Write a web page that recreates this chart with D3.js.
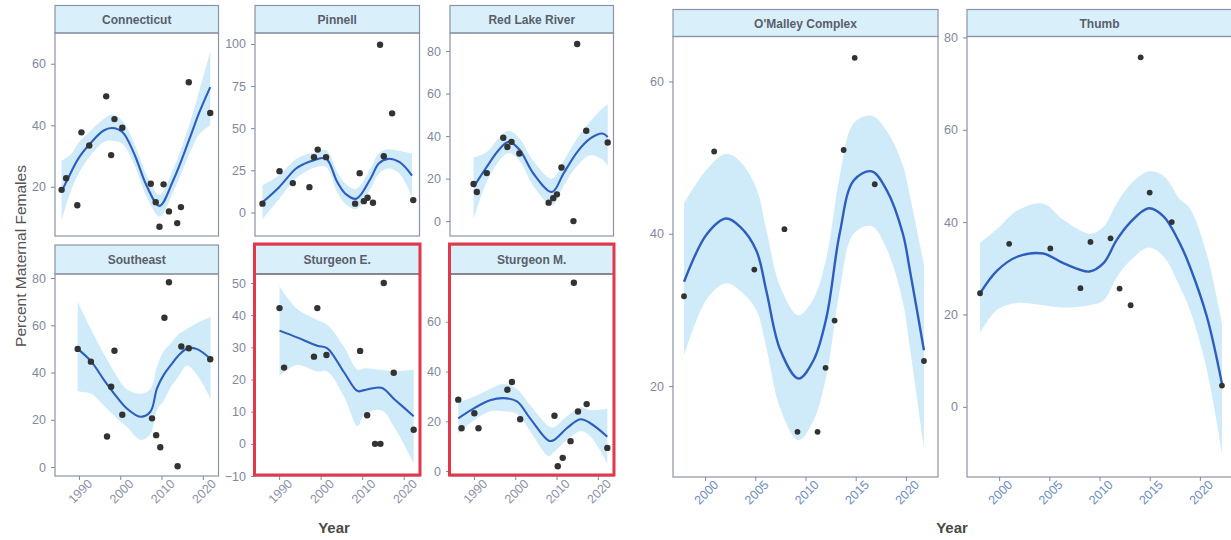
<!DOCTYPE html>
<html>
<head>
<meta charset="utf-8">
<script src="https://cdn.jsdelivr.net/npm/d3@7"></script>
<style>
  body { margin: 0; background: #fff; }
  svg { display: block; }
  text { font-family: "Liberation Sans", Arial, sans-serif; }
</style>
</head>
<body>
<svg id="chart" width="1231" height="540"></svg>
<script>
// ---- observations: survey year and percent of maternal females ----
const connecticutYears = [1985.8, 1986.9, 1989.6, 1990.6, 1992.5, 1996.6, 1997.8, 1998.6, 2000.5, 2007.4, 2008.6, 2009.5, 2010.5, 2011.8, 2013.8, 2014.7, 2016.6, 2021.8];
const connecticutPct   = [19, 22.8, 14, 37.7, 33.4, 49.4, 30.3, 42, 39.2, 21, 15, 7, 20.8, 12, 8.2, 13.4, 54, 44];

const pinnellYears = [1986, 1990.1, 1993.3, 1997.3, 1998.4, 1999.3, 2001.3, 2008.3, 2009.4, 2010.4, 2011.3, 2012.6, 2014.3, 2015.2, 2017.2, 2022.3];
const pinnellPct   = [5.2, 24.5, 17.4, 15, 32.8, 37.3, 32.8, 5.2, 23.3, 6.7, 8.7, 5.7, 99.5, 33.4, 58.8, 7.3];

const redLakeYears = [1989.9, 1990.7, 1993.1, 1997.1, 1998.1, 1999.1, 2001, 2008.1, 2009.2, 2010.1, 2011.2, 2014.1, 2015, 2017.2, 2022.4];
const redLakePct   = [17.5, 13.7, 22.6, 39.2, 34.9, 37.3, 31.8, 8.7, 10.8, 12.6, 25.2, 0, 83.3, 42.5, 37];

const southeastYears = [1989.7, 1992.9, 1996.8, 1997.8, 1998.6, 2000.5, 2007.7, 2008.7, 2009.7, 2010.7, 2011.8, 2013.9, 2014.8, 2016.6, 2021.8];
const southeastPct   = [50, 44.6, 12.9, 34, 49.2, 22.1, 20.6, 13.5, 8.4, 63.2, 78.2, 0.3, 51, 50.3, 45.6];

const sturgeonEYears = [1990.1, 1991.2, 1998.4, 1999.2, 2001.4, 2009.5, 2011.2, 2013.1, 2014.4, 2015.2, 2017.6, 2022.4];
const sturgeonEPct   = [42.2, 23.7, 27.1, 42.2, 27.6, 28.9, 8.9, 0, 0, 50, 22.1, 4.4];

const sturgeonMYears = [1986.2, 1987, 1990.1, 1991.1, 1998.1, 1999.2, 2001.2, 2009.5, 2010.3, 2011.5, 2013.4, 2014.2, 2015.2, 2017.3, 2022.3];
const sturgeonMPct   = [28.7, 17.2, 23.2, 17.2, 32.7, 35.8, 20.8, 22.2, 1.9, 5.3, 12, 75.7, 23.9, 26.9, 9.3];

const omalleyYears = [1997.9, 2000.9, 2004.9, 2007.9, 2009.2, 2011.2, 2012, 2012.9, 2013.8, 2014.9, 2016.9, 2021.8];
const omalleyPct   = [31.8, 50.8, 35.3, 40.6, 14, 14, 22.4, 28.6, 51, 63.1, 46.5, 23.3];

const thumbYears = [1998.1, 2001, 2005.1, 2008.1, 2009.1, 2011.1, 2012, 2013.1, 2014.1, 2015, 2017.2, 2022.2];
const thumbPct   = [24.6, 35.3, 34.3, 25.7, 35.7, 36.5, 25.6, 22, 75.7, 46.4, 40, 4.6];

// ---- loess trend with confidence band: year, fit, lower, upper ----
const connecticutTrendYears = [1985.8, 1988, 1990, 1993, 1996, 1998, 2000.5, 2003.3, 2006.5, 2009.5, 2012.9, 2016.7, 2019.1, 2021.8];
const connecticutFit   = [18.5, 24.5, 29.5, 34.5, 38.3, 39.1, 37.8, 31, 20, 13.8, 22.3, 35.3, 44, 52.4];
const connecticutLower = [9, 18.5, 24.5, 30.5, 34.5, 35, 34, 27.5, 16.5, 10.3, 18.5, 30.5, 37, 40];
const connecticutUpper = [28.5, 30.5, 34.5, 38.5, 42, 43.5, 41.5, 34.5, 23.5, 17.4, 26, 40, 51, 64];

const pinnellTrendYears = [1986, 1990, 1994, 1996, 1998.4, 2001.3, 2004, 2006, 2008.6, 2012, 2014, 2016.2, 2019, 2022];
const pinnellFit   = [6, 15, 25.9, 28.8, 31, 32, 18, 11, 8.1, 20, 29, 31.8, 29.8, 21.9];
const pinnellLower = [-4, 8, 20, 23.5, 26.5, 27, 12, 5, 2, 14, 23, 26, 23, 9];
const pinnellUpper = [16, 22, 31.5, 34, 35.5, 37, 24, 17, 14, 26, 35, 37.5, 36.5, 35];

const redLakeTrendYears = [1989.9, 1993.1, 1996, 1998.4, 2001, 2004.4, 2008.9, 2011.7, 2015, 2018.2, 2021.1, 2022.4];
const redLakeFit   = [16, 25.5, 33.5, 37.3, 33.7, 22.4, 13.7, 22.4, 32.5, 38.9, 41.2, 39.6];
const redLakeLower = [1, 18.5, 28, 32, 28.5, 16.5, 7.5, 16.5, 26, 31, 29, 26];
const redLakeUpper = [30, 32.5, 39, 42.5, 39, 28.3, 20, 28.3, 39, 47, 53, 55];

const southeastTrendYears = [1989.7, 1993, 1996, 1999, 2001.6, 2004.9, 2007.3, 2008.9, 2010.5, 2012.3, 2014, 2016.2, 2018.6, 2021.9];
const southeastFit   = [50, 44.6, 37, 30, 24.8, 21.3, 23.4, 33.3, 38.9, 43.2, 47, 50.2, 49.9, 45.7];
const southeastLower = [32, 31, 26, 21, 17, 11.5, 14, 24, 28, 34, 38, 43, 39, 29];
const southeastUpper = [70, 58, 48, 39, 33, 31, 33, 42.5, 49, 52.5, 56, 58.5, 61, 63.5];

const sturgeonETrendYears = [1990.1, 1994.3, 1999.2, 2001.6, 2005.7, 2008.9, 2010.5, 2014.6, 2017.8, 2022.4];
const sturgeonEFit   = [35.2, 33.1, 30.5, 29.7, 22.1, 16.4, 16.7, 17.4, 13.8, 8.6];
const sturgeonELower = [21, 24.5, 22.5, 22.5, 14.5, 5.5, 9, 10.5, 5, -6];
const sturgeonEUpper = [49, 42, 38.5, 37, 30, 23, 23.5, 23, 22.5, 23];

const sturgeonMTrendYears = [1986.2, 1990.1, 1993.9, 1997.1, 2000.4, 2003.6, 2008.1, 2009.3, 2012.5, 2015.8, 2018.2, 2022.3];
const sturgeonMFit   = [21.2, 25.3, 28.4, 29.3, 28, 21.2, 12.2, 12.4, 17.2, 20.8, 19.2, 13.8];
const sturgeonMLower = [15, 20.5, 24, 24, 23, 16, 6, 7.5, 12.5, 16, 14, 3];
const sturgeonMUpper = [27.5, 30, 33, 35, 33, 26.5, 18, 17.5, 22, 25.5, 24.5, 25];

const omalleyTrendYears = [1997.9, 2000.2, 2002.1, 2003.5, 2005.1, 2006.1, 2007.5, 2009.3, 2010.8, 2012.1, 2013.4, 2014.8, 2016.6, 2018.1, 2019.7, 2020.4, 2021.8];
const omalleyFit   = [33.7, 40, 42, 40.9, 37.8, 32.5, 24.7, 21, 23.4, 29.1, 40, 47, 48.2, 45.7, 40, 35.2, 24.7];
const omalleyLower = [24, 31.5, 33.5, 32.5, 30, 25, 17, 12.9, 15.5, 21.5, 32.5, 40, 41, 38, 31, 25, 12];
const omalleyUpper = [44, 48.5, 50.5, 49.5, 46, 40.5, 33, 29.3, 31.5, 37, 47.5, 54.5, 55.5, 53.5, 49, 45, 36];

const thumbTrendYears = [1998.1, 1999.8, 2001.8, 2004.4, 2006.4, 2009, 2010.4, 2011.7, 2013, 2014.9, 2016.4, 2018, 2019, 2020.7, 2022.2];
const thumbFit   = [24.6, 29.5, 32.5, 33.2, 31.1, 29.3, 31.1, 36.1, 39.8, 43, 41.2, 35.4, 30.4, 19.5, 5];
const thumbLower = [16, 21, 22.5, 22, 21.5, 22, 23, 28, 31.5, 34.5, 32.5, 26, 21, 8, -10];
const thumbUpper = [35.5, 38.5, 42.5, 44, 40.5, 37.5, 39, 44, 48, 51, 50, 45, 43, 33, 18];

// ---- axis ticks ----
const leftYearTicks  = [1990, 2000, 2010, 2020];
const rightYearTicks = [2000, 2005, 2010, 2015, 2020];

const connecticutTicks = [20, 40, 60];
const pinnellTicks     = [0, 25, 50, 75, 100];
const redLakeTicks     = [0, 20, 40, 60, 80];
const southeastTicks   = [0, 20, 40, 60, 80];
const sturgeonETicks   = [-10, 0, 10, 20, 30, 40, 50];
const sturgeonMTicks   = [0, 20, 40, 60];
const omalleyTicks     = [20, 40, 60];
const thumbTicks       = [0, 20, 40, 60, 80];

// ---- styling ----
const C = {
  strip: "#d9f0fb",
  border: "#8b93a6",
  band: "#cfebfa",
  line: "#2d5dbd",
  point: "#333333",
  tick: "#7f889c",
  xTickLeft: "#8a92a6",
  xTickRight: "#6f8dc0",
  stripText: "#595e6a",
  title: "#555555",
  highlight: "#e2384b"
};

const zip = (ys, vs) => ys.map((y, i) => ({ year: y, value: vs[i] }));
const trend = (ys, f, lo, hi) => ys.map((y, i) => ({ year: y, fit: f[i], lo: lo[i], hi: hi[i] }));

// Shared year ranges of the two facet grids
const leftDomain = [1984.2, 2023.8];
const rightDomain = [1996.8, 2023.2];

const panels = [
  { name: "Connecticut", left: 55, width: 163.5, stripTop: 5.5, top: 33, bottom: 236, xDomain: leftDomain,
    yDomain: [4, 70], yTicks: connecticutTicks, pts: zip(connecticutYears, connecticutPct),
    tr: trend(connecticutTrendYears, connecticutFit, connecticutLower, connecticutUpper), r: 3.2 },
  { name: "Pinnell", left: 255, width: 164.5, stripTop: 5.5, top: 33, bottom: 236, xDomain: leftDomain,
    yDomain: [-14, 106.5], yTicks: pinnellTicks, pts: zip(pinnellYears, pinnellPct),
    tr: trend(pinnellTrendYears, pinnellFit, pinnellLower, pinnellUpper), r: 3.2 },
  { name: "Red Lake River", left: 450, width: 163.5, stripTop: 5.5, top: 33, bottom: 236, xDomain: leftDomain,
    yDomain: [-7, 88.5], yTicks: redLakeTicks, pts: zip(redLakeYears, redLakePct),
    tr: trend(redLakeTrendYears, redLakeFit, redLakeLower, redLakeUpper), r: 3.2 },
  { name: "Southeast", left: 55, width: 163.5, stripTop: 245, top: 274, bottom: 476, xDomain: leftDomain,
    yDomain: [-3.8, 81.7], yTicks: southeastTicks, pts: zip(southeastYears, southeastPct),
    tr: trend(southeastTrendYears, southeastFit, southeastLower, southeastUpper), r: 3.2,
    xTicks: leftYearTicks, xColor: C.xTickLeft },
  { name: "Sturgeon E.", left: 255, width: 164.5, stripTop: 245, top: 274, bottom: 476, xDomain: leftDomain,
    yDomain: [-10, 52.8], yTicks: sturgeonETicks, pts: zip(sturgeonEYears, sturgeonEPct),
    tr: trend(sturgeonETrendYears, sturgeonEFit, sturgeonELower, sturgeonEUpper), r: 3.2,
    xTicks: leftYearTicks, xColor: C.xTickLeft, highlight: true },
  { name: "Sturgeon M.", left: 450, width: 163.5, stripTop: 245, top: 274, bottom: 476, xDomain: leftDomain,
    yDomain: [-2, 79.2], yTicks: sturgeonMTicks, pts: zip(sturgeonMYears, sturgeonMPct),
    tr: trend(sturgeonMTrendYears, sturgeonMFit, sturgeonMLower, sturgeonMUpper), r: 3.2,
    xTicks: leftYearTicks, xColor: C.xTickLeft, highlight: true },
  { name: "O'Malley Complex", left: 673, width: 265, stripTop: 9.5, top: 36.5, bottom: 477, xDomain: rightDomain,
    yDomain: [8.07, 65.9], yTicks: omalleyTicks, pts: zip(omalleyYears, omalleyPct),
    tr: trend(omalleyTrendYears, omalleyFit, omalleyLower, omalleyUpper), r: 2.9,
    xTicks: rightYearTicks, xColor: C.xTickRight, lineWidth: 2.4 },
  { name: "Thumb", left: 967, width: 265, stripTop: 9.5, top: 36.5, bottom: 477, xDomain: rightDomain,
    yDomain: [-15.2, 80.2], yTicks: thumbTicks, pts: zip(thumbYears, thumbPct),
    tr: trend(thumbTrendYears, thumbFit, thumbLower, thumbUpper), r: 2.9,
    xTicks: rightYearTicks, xColor: C.xTickRight, lineWidth: 2.4 }
];

const svg = d3.select("#chart");
const defs = svg.append("defs");
const fontFamily = "\"Liberation Sans\", Arial, sans-serif";

panels.forEach((p, i) => {
  const x = d3.scaleLinear().domain(p.xDomain).range([p.left, p.left + p.width]);
  const y = d3.scaleLinear().domain(p.yDomain).range([p.bottom, p.top]);
  const g = svg.append("g");

  defs.append("clipPath").attr("id", "clip" + i)
    .append("rect").attr("x", p.left).attr("y", p.top)
    .attr("width", p.width).attr("height", p.bottom - p.top);

  // facet strip
  g.append("rect")
    .attr("x", p.left).attr("y", p.stripTop)
    .attr("width", p.width).attr("height", p.top - p.stripTop)
    .attr("fill", C.strip).attr("stroke", C.border).attr("stroke-width", 1.2);
  g.append("text")
    .attr("x", p.left + p.width / 2).attr("y", (p.stripTop + p.top) / 2 + 4.5)
    .attr("text-anchor", "middle").attr("font-size", 12).attr("font-weight", "bold")
    .attr("fill", C.stripText).text(p.name);

  // confidence band, trend line and observations
  const area = g.append("g").attr("clip-path", `url(#clip${i})`);
  area.append("path").datum(p.tr)
    .attr("fill", C.band)
    .attr("d", d3.area().x(d => x(d.year)).y0(d => y(d.lo)).y1(d => y(d.hi)).curve(d3.curveCatmullRom));
  area.append("path").datum(p.tr)
    .attr("fill", "none").attr("stroke", C.line).attr("stroke-width", p.lineWidth || 2.1)
    .attr("d", d3.line().x(d => x(d.year)).y(d => y(d.fit)).curve(d3.curveCatmullRom));
  area.selectAll("circle").data(p.pts).join("circle")
    .attr("cx", d => x(d.year)).attr("cy", d => y(d.value)).attr("r", p.r)
    .attr("fill", C.point);

  // panel border
  g.append("rect")
    .attr("x", p.left).attr("y", p.top)
    .attr("width", p.width).attr("height", p.bottom - p.top)
    .attr("fill", "none").attr("stroke", C.border).attr("stroke-width", 1.2);

  // y axis
  const yAxis = g.append("g").attr("transform", `translate(${p.left},0)`)
    .call(d3.axisLeft(y).tickValues(p.yTicks).tickSize(4).tickPadding(5).tickFormat(d3.format("d")));
  yAxis.select(".domain").remove();
  yAxis.selectAll("line").attr("stroke", C.tick);
  yAxis.selectAll("text").attr("fill", C.tick).attr("font-size", 12.5)
    .attr("font-family", fontFamily);

  // year axis under the bottom-row panels
  if (p.xTicks) {
    const xAxis = g.append("g").attr("transform", `translate(0,${p.bottom})`)
      .call(d3.axisBottom(x).tickValues(p.xTicks).tickSize(4).tickFormat(d3.format("d")));
    xAxis.select(".domain").remove();
    xAxis.selectAll("line").attr("stroke", C.tick);
    xAxis.selectAll("text")
      .attr("fill", p.xColor).attr("font-size", 12.5)
      .attr("font-family", fontFamily)
      .attr("text-anchor", "middle").attr("dy", null).attr("y", 0)
      .attr("transform", "translate(1.5,16) rotate(-45)")
      .attr("dominant-baseline", "middle");
  }

  if (p.highlight) {
    g.append("line")
      .attr("x1", p.left).attr("x2", p.left + p.width)
      .attr("y1", p.top).attr("y2", p.top)
      .attr("stroke", "#6e6e6e").attr("stroke-width", 1.2);
    g.append("rect")
      .attr("x", p.left - 0.5).attr("y", p.stripTop - 1)
      .attr("width", p.width + 1).attr("height", p.bottom - p.stripTop)
      .attr("fill", "none").attr("stroke", C.highlight).attr("stroke-width", 3);
  }
});

// axis titles
svg.append("text")
  .attr("transform", "translate(26,256) rotate(-90)")
  .attr("text-anchor", "middle").attr("font-size", 15.5).attr("fill", C.title)
  .text("Percent Maternal Females");
svg.append("text")
  .attr("x", 334).attr("y", 533).attr("text-anchor", "middle")
  .attr("font-size", 15).attr("font-weight", "bold").attr("fill", "#4a4a4a").text("Year");
svg.append("text")
  .attr("x", 952).attr("y", 533).attr("text-anchor", "middle")
  .attr("font-size", 15).attr("font-weight", "bold").attr("fill", "#4a4a4a").text("Year");
</script>
</body>
</html>
